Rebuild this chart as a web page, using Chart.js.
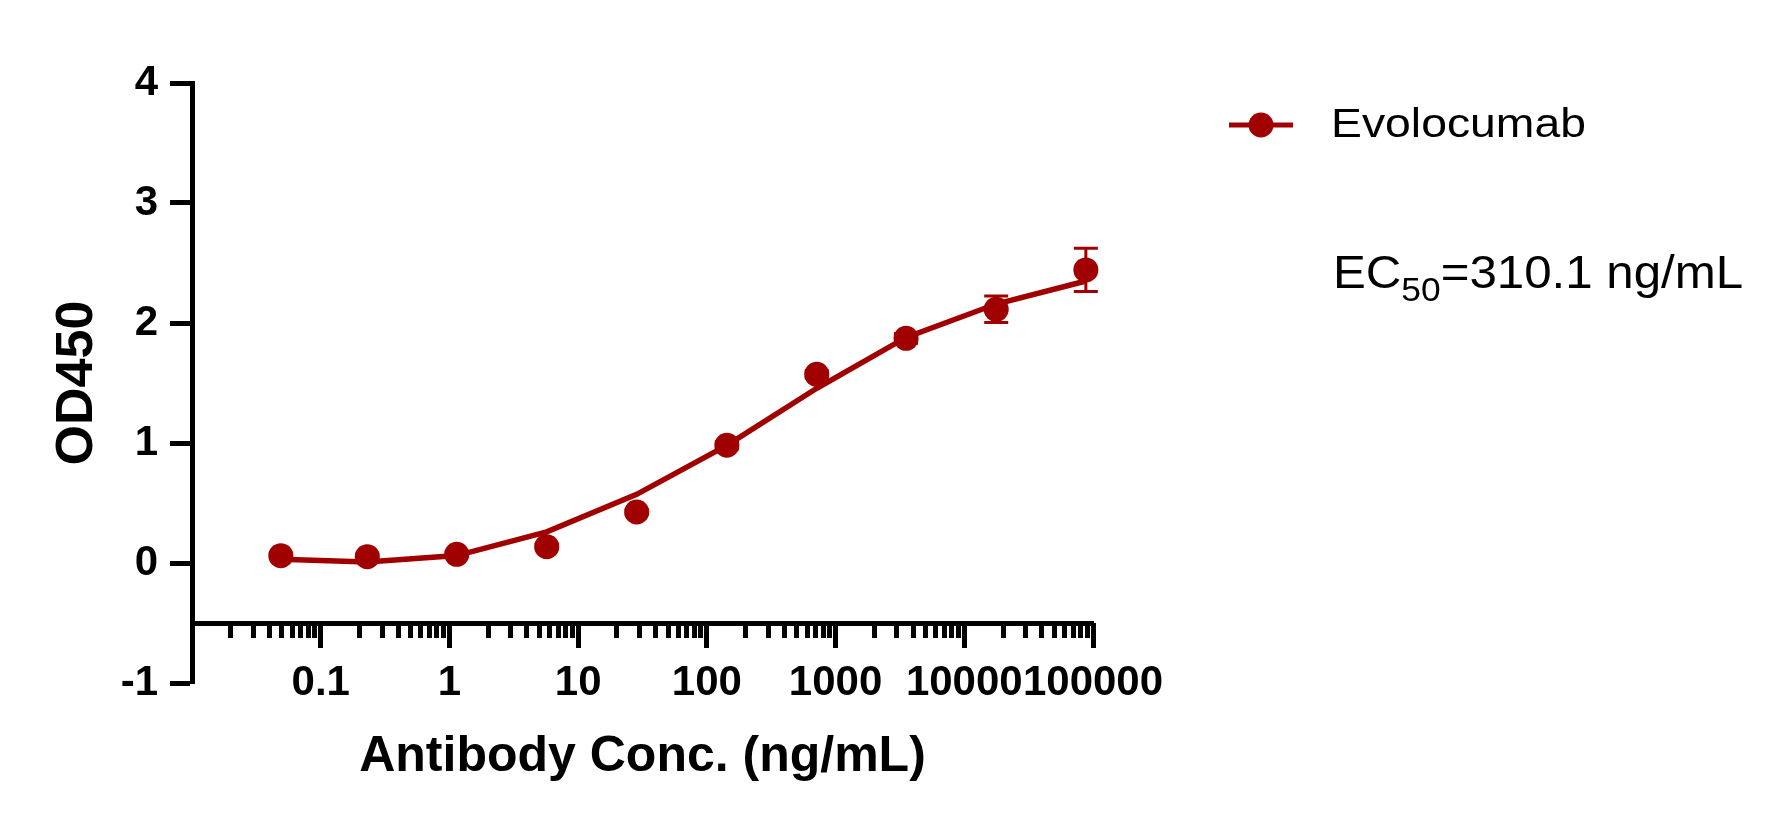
<!DOCTYPE html>
<html lang="en">
<head>
  <meta charset="UTF-8">
  <title>Evolocumab ELISA binding curve</title>
  <script src="https://cdn.jsdelivr.net/npm/chart.js"></script>
  <style>
    html, body {
      margin: 0;
      padding: 0;
      background-color: #ffffff;
    }
    .chart-box {
      width: 1788px;
      height: 822px;
    }
  </style>
</head>
<body>
  <div class="chart-box">
    <canvas id="ec50Chart" width="1788" height="822"></canvas>
  </div>

  <script>
    // values
    const seriesName = "Evolocumab";
    const concentrations = [0.049, 0.23, 1.14, 5.7, 28.5, 143, 714, 3530, 17700, 88000]; // ng/mL
    const od450Mean = [0.061, 0.053, 0.072, 0.136, 0.425, 0.981, 1.572, 1.872, 2.114, 2.442];
    const od450Sd = [0.02, 0.02, 0.02, 0.02, 0.02, 0.03, 0.03, 0.04, 0.11, 0.18];
    const fitValues = [0.032, 0.009, 0.062, 0.26, 0.572, 0.98, 1.456, 1.88, 2.158, 2.35];
    const ec50Label = "=310.1 ng/mL";

    // axis ticks
    const decades = [0.01, 0.1, 1, 10, 100, 1000, 10000, 100000];
    const minorSteps = [2, 3, 4, 5, 6, 7, 8, 9];
    const yTickValues = [-1, 0, 1, 2, 3, 4];

    const red = "#a00000";
    const fontFamily = "'Liberation Sans', Arial, Helvetica, sans-serif";

    const majorTicks = decades.slice(1);
    const minorTicks = [];
    decades.slice(0, -1).forEach(d => {
      minorSteps.forEach(m => minorTicks.push(parseFloat((d * m).toPrecision(6))));
    });

    // error bars, drawn under the dots
    const errorBars = {
      id: "errorBars",
      beforeDatasetsDraw(chart) {
        const { ctx, scales } = chart;
        ctx.save();
        ctx.strokeStyle = red;
        ctx.lineWidth = 3;
        concentrations.forEach((c, i) => {
          const px = scales.x.getPixelForValue(c);
          const top = scales.y.getPixelForValue(od450Mean[i] + od450Sd[i]);
          const bottom = scales.y.getPixelForValue(od450Mean[i] - od450Sd[i]);
          ctx.beginPath();
          ctx.moveTo(px, top);
          ctx.lineTo(px, bottom);
          ctx.moveTo(px - 12, top);
          ctx.lineTo(px + 12, top);
          ctx.moveTo(px - 12, bottom);
          ctx.lineTo(px + 12, bottom);
          ctx.stroke();
        });
        ctx.restore();
      }
    };

    function stretchedText(ctx, text, x, y, sx) {
      ctx.save();
      ctx.translate(x, y);
      ctx.scale(sx, 1);
      ctx.fillText(text, 0, 0);
      const w = ctx.measureText(text).width * sx;
      ctx.restore();
      return w;
    }

    // legend entry and EC50 note on the right
    const sideNotes = {
      id: "sideNotes",
      afterDraw(chart) {
        const ctx = chart.ctx;
        const ds = chart.data.datasets[0];
        ctx.save();
        ctx.strokeStyle = ds.borderColor;
        ctx.fillStyle = ds.pointBackgroundColor;
        ctx.lineWidth = 5;
        ctx.beginPath();
        ctx.moveTo(1229, 125);
        ctx.lineTo(1293, 125);
        ctx.stroke();
        ctx.beginPath();
        ctx.arc(1261, 125, 12.5, 0, Math.PI * 2);
        ctx.fill();

        ctx.fillStyle = "#000000";
        ctx.textBaseline = "alphabetic";
        ctx.textAlign = "left";
        ctx.font = "41px " + fontFamily;
        stretchedText(ctx, ds.label, 1331, 137, 1.13);

        let x = 1333;
        ctx.font = "46px " + fontFamily;
        x += stretchedText(ctx, "EC", x, 288, 1.07);
        ctx.font = "34px " + fontFamily;
        x += stretchedText(ctx, "50", x, 301, 1.04);
        ctx.font = "46px " + fontFamily;
        stretchedText(ctx, ec50Label, x, 288, 1.07);
        ctx.restore();
      }
    };

    Chart.defaults.font.family = fontFamily;
    Chart.defaults.color = "#000000";

    const ctx = document.getElementById("ec50Chart").getContext("2d");
    new Chart(ctx, {
      type: "line",
      data: {
        datasets: [
          {
            label: seriesName,
            data: concentrations.map((c, i) => ({ x: c, y: od450Mean[i] })),
            showLine: false,
            clip: false,
            pointRadius: 12.5,
            pointHoverRadius: 12.5,
            pointBorderWidth: 0,
            pointBackgroundColor: red,
            borderColor: red,
            backgroundColor: red,
            order: 0
          },
          {
            label: seriesName + " fit",
            data: concentrations.map((c, i) => ({ x: c, y: fitValues[i] })),
            clip: false,
            borderColor: red,
            borderWidth: 5.5,
            pointRadius: 0,
            tension: 0,
            fill: false,
            order: 1
          }
        ]
      },
      options: {
        responsive: false,
        devicePixelRatio: 1,
        animation: false,
        layout: { padding: { left: 0, top: 83, right: 695, bottom: 139 } },
        plugins: {
          legend: { display: false },
          tooltip: { enabled: false }
        },
        scales: {
          // minor tick marks + axis line
          x: {
            type: "logarithmic",
            position: { y: -0.5 },
            min: 0.01,
            max: 100000,
            border: { display: true, color: "#000000", width: 5 },
            grid: { drawOnChartArea: false, tickLength: 12, tickWidth: 5, tickColor: "#000000" },
            ticks: { display: false, autoSkip: false },
            afterBuildTicks: scale => {
              scale.ticks = minorTicks.map(v => ({ value: v }));
            }
          },
          // decade ticks, labels and title
          xMajor: {
            type: "logarithmic",
            axis: "x",
            position: { y: -0.5 },
            min: 0.01,
            max: 100000,
            border: { display: false },
            grid: { drawOnChartArea: false, tickLength: 25, tickWidth: 5, tickColor: "#000000" },
            ticks: {
              autoSkip: false,
              maxRotation: 0,
              minRotation: 0,
              padding: 10,
              color: "#000000",
              font: { size: 42, weight: "bold", lineHeight: 1.2 },
              callback: value => String(value)
            },
            afterBuildTicks: scale => {
              scale.ticks = majorTicks.map(v => ({ value: v, major: true }));
            },
            title: {
              display: true,
              text: "Antibody Conc. (ng/mL)",
              color: "#000000",
              font: { size: 50, weight: "bold", lineHeight: 1 },
              padding: { top: 14, bottom: 0 }
            }
          },
          y: {
            type: "linear",
            position: "left",
            min: -1,
            max: 4,
            border: { display: true, color: "#000000", width: 5 },
            grid: { drawOnChartArea: false, tickLength: 22, tickWidth: 5, tickColor: "#000000" },
            ticks: {
              padding: 12,
              color: "#000000",
              font: { size: 42, weight: "bold" }
            },
            afterBuildTicks: scale => {
              scale.ticks = yTickValues.map(v => ({ value: v }));
            },
            afterFit: scale => {
              scale.width = 192;
            },
            title: {
              display: true,
              text: "OD450",
              color: "#000000",
              font: { size: 52, weight: "bold", lineHeight: 1 },
              padding: { top: 52, bottom: 0 }
            }
          }
        }
      },
      plugins: [errorBars, sideNotes]
    });
  </script>
</body>
</html>
